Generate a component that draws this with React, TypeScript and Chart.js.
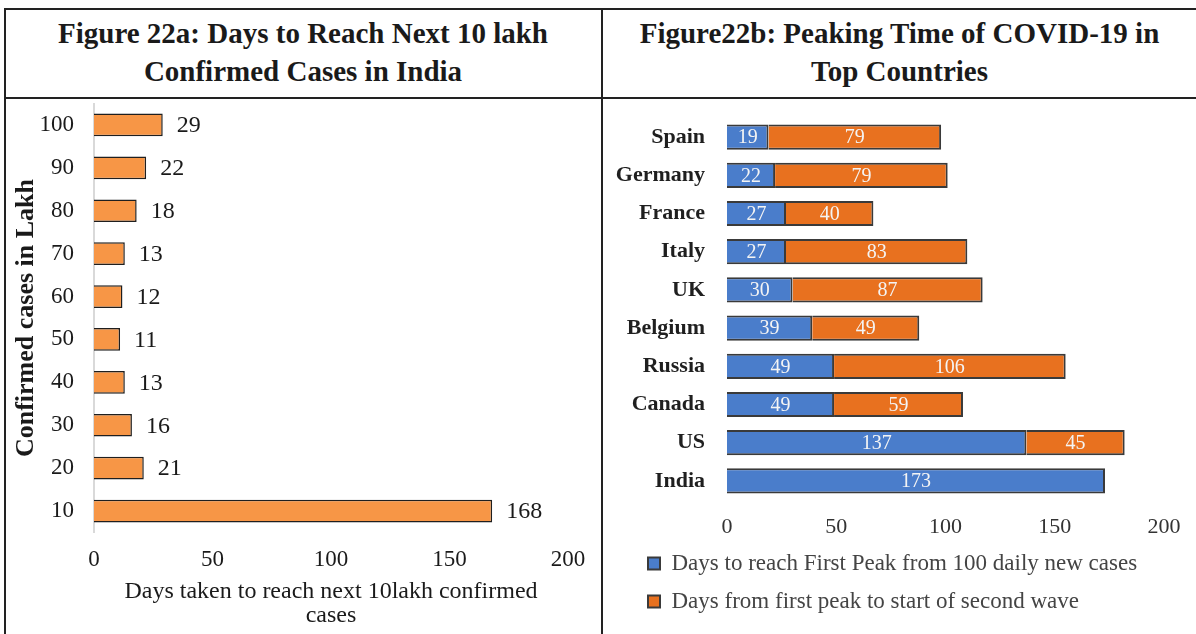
import React, { useEffect, useRef } from "react";
import { Chart, registerables } from "chart.js";

Chart.register(...registerables);

// ---------- Data ----------
const lakhCategories = ["100", "90", "80", "70", "60", "50", "40", "30", "20", "10"];
const daysToNext10Lakh = [29, 22, 18, 13, 12, 11, 13, 16, 21, 168];

const countries = ["Spain", "Germany", "France", "Italy", "UK", "Belgium", "Russia", "Canada", "US", "India"];
const daysToFirstPeak = [19, 22, 27, 27, 30, 39, 49, 49, 137, 173];
const daysFirstPeakToSecondWave = [79, 79, 40, 83, 87, 49, 106, 59, 45, null];

const firstPeakLabel = "Days to reach First Peak from 100 daily new cases";
const secondWaveLabel = "Days from first peak to start of second wave";

const SERIF = "'Liberation Serif', 'Times New Roman', serif";

// ---------- Value label plugin ----------
const valueLabels = {
  id: "valueLabels",
  afterDatasetsDraw(chart: any, _args: any, opts: any) {
    const ctx = chart.ctx;
    chart.data.datasets.forEach((ds: any, di: number) => {
      const meta = chart.getDatasetMeta(di);
      if (meta.hidden) return;
      meta.data.forEach((bar: any, i: number) => {
        const v = ds.data[i];
        if (v === null || v === undefined) return;
        const { x, y, base } = bar.getProps(["x", "y", "base"], true);
        ctx.save();
        ctx.font = opts.font;
        ctx.fillStyle = opts.color;
        ctx.textBaseline = "middle";
        if (opts.mode === "end") {
          ctx.textAlign = "left";
          ctx.fillText(String(v), x + opts.offset, y + 1);
        } else {
          ctx.textAlign = "center";
          ctx.fillText(String(v), (x + base) / 2, y + 1);
        }
        ctx.restore();
      });
    });
  },
};

// shift the legend block to the right without moving the axes
const legendShift = {
  id: "legendShift",
  afterLayout(chart: any, _args: any, opts: any) {
    if (chart.legend) chart.legend.left += opts.dx || 0;
  },
};

function LeftChart() {
  const ref = useRef<HTMLCanvasElement | null>(null);
  useEffect(() => {
    if (!ref.current) return;
    const chart = new Chart(ref.current, {
      type: "bar",
      data: {
        labels: lakhCategories,
        datasets: [
          {
            data: daysToNext10Lakh,
            backgroundColor: "#F79646",
            borderColor: "#1f1f1f",
            borderWidth: 1.5,
            barPercentage: 0.53,
            categoryPercentage: 1,
          },
        ],
      },
      options: {
        indexAxis: "y",
        responsive: false,
        animation: false,
        layout: { padding: { top: 3.5, right: 32, bottom: 0, left: 0 } },
        plugins: {
          legend: { display: false },
          tooltip: { enabled: false },
          valueLabels: { mode: "end", offset: 14, font: `24px ${SERIF}`, color: "#1a1a1a" },
        } as any,
        scales: {
          x: {
            min: 0,
            max: 200,
            ticks: { stepSize: 50, color: "#1a1a1a", font: { family: SERIF, size: 23 }, padding: 14 },
            grid: { display: false, drawTicks: false },
            border: { display: false },
            title: {
              display: true,
              text: ["Days taken to reach next 10lakh confirmed", "cases"],
              color: "#1a1a1a",
              font: { family: SERIF, size: 24, lineHeight: 1 },
              padding: { top: 0, bottom: 6 },
            },
            afterFit: (s: any) => {
              s.height = 101.5;
              s.paddingLeft = 0;
              s.paddingRight = 0;
            },
          },
          y: {
            ticks: { color: "#1a1a1a", font: { family: SERIF, size: 23 }, padding: 20 },
            grid: { display: false, drawTicks: false },
            border: { display: true, color: "#d9d9d9", width: 2 },
            title: {
              display: true,
              text: "Confirmed cases in Lakh",
              color: "#1a1a1a",
              font: { family: SERIF, size: 26, weight: "bold", lineHeight: 1.2 },
              padding: { top: 11, bottom: 0 },
            },
            afterFit: (s: any) => {
              s.width = 94;
              s.paddingTop = 0;
              s.paddingBottom = 0;
            },
          },
        },
      } as any,
      plugins: [valueLabels as any],
    });
    return () => chart.destroy();
  }, []);
  return (
    <canvas
      ref={ref}
      width={600}
      height={534}
      style={{ position: "absolute", left: 0, top: 100, width: 600, height: 534 }}
    />
  );
}

function RightChart() {
  const ref = useRef<HTMLCanvasElement | null>(null);
  useEffect(() => {
    if (!ref.current) return;
    const chart = new Chart(ref.current, {
      type: "bar",
      data: {
        labels: countries,
        datasets: [
          {
            label: firstPeakLabel,
            data: daysToFirstPeak,
            backgroundColor: "#4A7DCB",
            borderColor: "#3a3a3a",
            borderWidth: 2,
            barPercentage: 0.66,
            categoryPercentage: 1,
          },
          {
            label: secondWaveLabel,
            data: daysFirstPeakToSecondWave,
            backgroundColor: "#E8711F",
            borderColor: "#3a3a3a",
            borderWidth: 2,
            barPercentage: 0.66,
            categoryPercentage: 1,
          },
        ],
      },
      options: {
        indexAxis: "y",
        responsive: false,
        animation: false,
        layout: { padding: { top: 18, right: 32, bottom: 0, left: 0 } },
        plugins: {
          legend: {
            display: true,
            position: "bottom",
            align: "start",
            labels: {
              boxWidth: 12,
              boxHeight: 12,
              padding: 15,
              color: "#444444",
              font: { family: SERIF, size: 23 },
            },
          },
          legendShift: { dx: 30 },
          tooltip: { enabled: false },
          valueLabels: { mode: "center", font: `20px ${SERIF}`, color: "#f4f4f4" },
        } as any,
        scales: {
          x: {
            stacked: true,
            min: 0,
            max: 200,
            ticks: { stepSize: 50, color: "#333333", font: { family: SERIF, size: 22 }, padding: 14 },
            grid: { display: false, drawTicks: false },
            border: { display: false },
            afterFit: (s: any) => {
              s.height = 37;
              s.paddingLeft = 0;
              s.paddingRight = 0;
            },
          },
          y: {
            stacked: true,
            ticks: { color: "#1f1f1f", font: { family: SERIF, size: 22, weight: "bold" }, padding: 22 },
            grid: { display: false, drawTicks: false },
            border: { display: false },
            afterFit: (s: any) => {
              s.width = 124;
              s.paddingTop = 0;
              s.paddingBottom = 0;
            },
          },
        },
      } as any,
      plugins: [valueLabels as any, legendShift as any],
    });
    return () => chart.destroy();
  }, []);
  return (
    <canvas
      ref={ref}
      width={593}
      height={523}
      style={{ position: "absolute", left: 603, top: 100, width: 593, height: 523 }}
    />
  );
}

const line = (style: React.CSSProperties) => (
  <div style={{ position: "absolute", background: "#222222", zIndex: 2, ...style }} />
);

const titleStyle: React.CSSProperties = {
  position: "absolute",
  top: 14,
  fontFamily: SERIF,
  fontWeight: "bold",
  fontSize: 29,
  lineHeight: "38px",
  textAlign: "center",
  color: "#1a1a1a",
  whiteSpace: "nowrap",
};

export default function App() {
  return (
    <div
      style={{
        position: "absolute",
        left: 0,
        top: 0,
        width: 1196,
        height: 634,
        background: "#ffffff",
        overflow: "hidden",
        fontFamily: SERIF,
      }}
    >
      <div style={{ ...titleStyle, left: 5, width: 596 }}>
        <div>Figure 22a: Days to Reach Next 10 lakh</div>
        <div>Confirmed Cases in India</div>
      </div>
      <div style={{ ...titleStyle, left: 603, width: 593 }}>
        <div>Figure22b: Peaking Time of COVID-19 in</div>
        <div>Top Countries</div>
      </div>
      <LeftChart />
      <RightChart />
      {line({ left: 4, top: 8, width: 1192, height: 2 })}
      {line({ left: 4, top: 97, width: 1192, height: 2 })}
      {line({ left: 4, top: 8, width: 2, height: 626 })}
      {line({ left: 601, top: 8, width: 2, height: 626 })}
    </div>
  );
}
